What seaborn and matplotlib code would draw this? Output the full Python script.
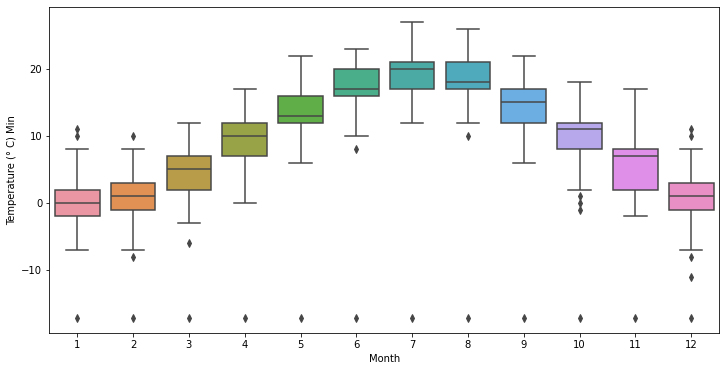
import colorsys

import matplotlib
matplotlib.use("Agg")
import matplotlib.pyplot as plt
import pandas as pd
import seaborn as sns

# Box statistics (degrees C)
months = [1, 2, 3, 4, 5, 6, 7, 8, 9, 10, 11, 12]
q1 = [-2, -1, 2, 7, 12, 16, 17, 17, 12, 8, 2, -1]
medians = [0, 1, 5, 10, 13, 17, 20, 18, 15, 11, 7, 1]
q3 = [2, 3, 7, 12, 16, 20, 21, 21, 17, 12, 8, 3]
whisker_low = [-7, -7, -3, 0, 6, 10, 12, 12, 6, 2, -2, -7]
whisker_high = [8, 8, 12, 17, 22, 23, 27, 26, 22, 18, 17, 8]
outliers = [
    [-17.2, 10, 11],
    [-17.2, -8, 10],
    [-17.2, -6],
    [-17.2],
    [-17.2],
    [-17.2, 8],
    [-17.2],
    [-17.2, 10],
    [-17.2],
    [-17.2, -1, 0, 1],
    [-17.2],
    [-17.2, -11, -8, 10, 11],
]


def construire_observations():
    # observations whose quartiles / whiskers reproduce the stats above
    lignes = []
    for i, mois in enumerate(months):
        valeurs = ([whisker_low[i]] + [q1[i]] * 40 + [medians[i]] * 20
                   + [q3[i]] * 40 + [whisker_high[i]] + outliers[i])
        lignes += [(mois, v) for v in valeurs]
    return pd.DataFrame(lignes, columns=["Month", "Temp"])


def main():
    df = construire_observations()

    couleurs = sns.husl_palette(12, l=.7)
    desat = [sns.desaturate(c, .75) for c in couleurs]
    lum = min(colorsys.rgb_to_hls(*c)[1] for c in desat) * .6
    gris = (lum, lum, lum)

    fig = plt.figure(figsize=(725 / 72, 371 / 72), dpi=72)
    ax = fig.add_axes([0.068, 0.1024, 0.924, 0.878])
    sns.boxplot(
        data=df, x="Month", y="Temp", hue="Month",
        palette=dict(zip(months, couleurs)), legend=False,
        saturation=.75, width=.8, linewidth=1.5, linecolor=gris,
        flierprops=dict(marker="d", markerfacecolor=gris, markeredgecolor=gris, markersize=5),
        ax=ax,
    )
    ax.set_yticks([-10, 0, 10, 20])
    ax.set_xlabel("Month")
    ax.set_ylabel("Temperature (° C) Min")
    fig.savefig("out.png", dpi=72)


if __name__ == "__main__":
    main()
